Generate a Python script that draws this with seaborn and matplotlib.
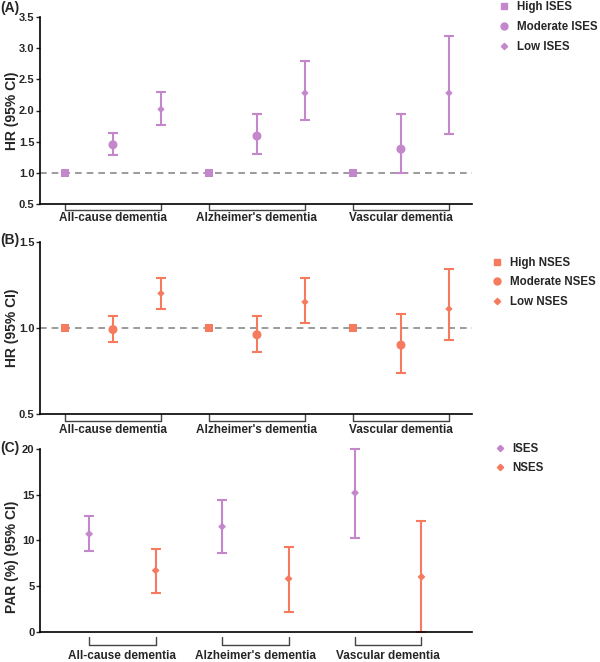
import numpy as np
import pandas as pd
import matplotlib
matplotlib.use("Agg")
import matplotlib.pyplot as plt
import matplotlib.transforms as mtransforms
from matplotlib.lines import Line2D
import seaborn as sns

# ---- data ----
outcomes = ["All-cause dementia", "Alzheimer's dementia", "Vascular dementia"]
levels = ["High", "Moderate", "Low"]

# panel A: individual SES, HR and 95% CI (High = reference)
ises_hr = [1.00, 1.45, 2.02, 1.00, 1.59, 2.28, 1.00, 1.38, 2.28]
ises_lo = [1.00, 1.28, 1.77, 1.00, 1.30, 1.85, 1.00, 1.00, 1.63]
ises_hi = [1.00, 1.64, 2.30, 1.00, 1.94, 2.80, 1.00, 1.94, 3.19]

# panel B: neighbourhood SES
nses_hr = [1.00, 0.99, 1.20, 1.00, 0.96, 1.15, 1.00, 0.90, 1.11]
nses_lo = [1.00, 0.92, 1.11, 1.00, 0.86, 1.03, 1.00, 0.74, 0.93]
nses_hi = [1.00, 1.07, 1.29, 1.00, 1.07, 1.29, 1.00, 1.08, 1.34]

# panel C: PAR (%) per outcome, ISES then NSES
par_ises = [10.7, 11.5, 15.2]
par_ises_lo = [8.8, 8.6, 10.3]
par_ises_hi = [12.7, 14.4, 20.0]
par_nses = [6.7, 5.8, 6.0]
par_nses_lo = [4.2, 2.2, 0.0]
par_nses_hi = [9.1, 9.3, 12.1]

purple = "#C487CB"
orange = "#F67A5E"
bracket_col = "#454545"

sns.set_style("ticks")
plt.rcParams["font.family"] = ["Liberation Sans", "DejaVu Sans"]
plt.rcParams["font.weight"] = "bold"

fig = plt.figure(figsize=(6, 6.62), dpi=100)
W, H = 600, 662


def add_axes(top_px, bottom_px, left_px=40, right_px=472):
    return fig.add_axes([left_px / W, 1 - bottom_px / H,
                         (right_px - left_px) / W, (bottom_px - top_px) / H])


def style_axes(ax):
    sns.despine(ax=ax)
    for s in ["left", "bottom"]:
        ax.spines[s].set_linewidth(1.2)
        ax.spines[s].set_color("black")
    ax.tick_params(axis="y", length=3, width=1, labelsize=8, pad=1)
    ax.tick_params(axis="x", length=0, labelbottom=False)
    for t in ax.get_yticklabels():
        t.set_fontweight("bold")
    ax.set_xlabel("")


def set_ylabel(ax, text, ycen=0.5):
    ax.set_ylabel(text, fontsize=10, fontweight="bold", va="center")
    ax.yaxis.set_label_coords(-28 / 432, ycen)


def brackets(ax, spans, y0_px, y1_px, text_px):
    # grouped x-axis brackets drawn under the axis
    tr = mtransforms.blended_transform_factory(ax.transData, ax.transAxes)
    h = ax.bbox.height
    for (a, b), name in zip(spans, outcomes):
        yy0, yy1 = -y0_px / h, -y1_px / h
        ax.plot([a, a, b, b], [yy0, yy1, yy1, yy0], color=bracket_col, lw=1,
                transform=tr, clip_on=False)
        ax.text((a + b) / 2, -text_px / h, name, transform=tr,
                ha="center", va="center", fontsize=8.5, fontweight="bold")


def add_legend(ax, handles, labels, x, y):
    ax.legend(handles, labels, loc="upper left", bbox_to_anchor=(x, y), frameon=False,
              handlelength=1, handletextpad=0.6, labelspacing=0.68, borderaxespad=0,
              prop={"weight": "bold", "size": 8.3})


def hr_panel(ax, hr, lo, hi, color, ylim, yticks, tag):
    df = pd.DataFrame({
        "pos": np.arange(len(hr)),
        "hr": hr, "lo": lo, "hi": hi,
        "level": levels * len(outcomes),
    })
    ax.axhline(1.0, color="#8a8a8a", lw=1.2, ls=(0, (4, 3)), zorder=1)
    ci = df[df["level"] != "High"]
    ax.errorbar(ci["pos"], ci["hr"], yerr=[ci["hr"] - ci["lo"], ci["hi"] - ci["hr"]],
                fmt="none", ecolor=color, elinewidth=1.5, capsize=3.5, capthick=1.5, zorder=2)
    sns.scatterplot(data=df, x="pos", y="hr", style="level", size="level",
                    markers={"High": "s", "Moderate": "o", "Low": "D"},
                    sizes={"High": 38, "Moderate": 42, "Low": 14},
                    color=color, edgecolor="none", legend=False, ax=ax, zorder=3)
    ax.set_xlim(-0.52, 8.48)
    ax.set_ylim(*ylim)
    ax.set_yticks(yticks)
    ax.set_yticklabels([f"{v:.1f}" for v in yticks])
    set_ylabel(ax, "HR (95% CI)")
    style_axes(ax)
    handles = [
        Line2D([], [], marker="s", color=color, ls="none", markersize=5),
        Line2D([], [], marker="o", color=color, ls="none", markersize=5),
        Line2D([], [], marker="D", color=color, ls="none", markersize=3.2),
    ]
    lab = [f"{lv} {tag}" for lv in levels]
    return handles, lab


# ---- panel A ----
axA = add_axes(17, 204)
h, l = hr_panel(axA, ises_hr, ises_lo, ises_hi, purple, (0.5, 3.5),
                [0.5, 1.0, 1.5, 2.0, 2.5, 3.0, 3.5], "ISES")
add_legend(axA, h, l, 1.05, 1.11)
brackets(axA, [(0, 2), (3, 5), (6, 8)], 0, 6, 14)

# ---- panel B ----
axB = add_axes(241.7, 414)
h, l = hr_panel(axB, nses_hr, nses_lo, nses_hi, orange, (0.5, 1.5),
                [0.5, 1.0, 1.5], "NSES")
add_legend(axB, h, l, 1.035, 0.94)
brackets(axB, [(0, 2), (3, 5), (6, 8)], 0, 7, 16)

# ---- panel C ----
axC = add_axes(449, 631.7)
par = pd.DataFrame({
    "pos": np.concatenate([np.arange(3) * 2, np.arange(3) * 2 + 1]),
    "par": par_ises + par_nses,
    "lo": par_ises_lo + par_nses_lo,
    "hi": par_ises_hi + par_nses_hi,
    "group": ["ISES"] * 3 + ["NSES"] * 3,
})
pal = {"ISES": purple, "NSES": orange}
for g, sub in par.groupby("group"):
    axC.errorbar(sub["pos"], sub["par"], yerr=[sub["par"] - sub["lo"], sub["hi"] - sub["par"]],
                 fmt="none", ecolor=pal[g], elinewidth=1.5, capsize=3.5, capthick=1.5,
                 zorder=2, clip_on=False)
sns.scatterplot(data=par, x="pos", y="par", hue="group", palette=pal, marker="D",
                s=16, edgecolor="none", legend=False, ax=axC, zorder=3, clip_on=False)
axC.set_xlim(-0.74, 5.76)
axC.set_ylim(0, 20)
axC.set_yticks([0, 5, 10, 15, 20])
axC.set_yticklabels(["0", "5", "10", "15", "20"])
set_ylabel(axC, "PAR (%) (95% CI)", 0.41)
style_axes(axC)
hC = [Line2D([], [], marker="D", color=pal[g], ls="none", markersize=3.2) for g in ["ISES", "NSES"]]
add_legend(axC, hC, ["ISES", "NSES"], 1.04, 1.06)
brackets(axC, [(0, 1), (2, 3), (4, 5)], 5, 13.3, 24)

# ---- panel tags ----
for txt, ypx in [("(A)", 8), ("(B)", 240), ("(C)", 448)]:
    fig.text(0.0, 1 - ypx / H, txt, fontsize=10, fontweight="bold", va="center", ha="left")

fig.savefig("out.png", dpi=100)
